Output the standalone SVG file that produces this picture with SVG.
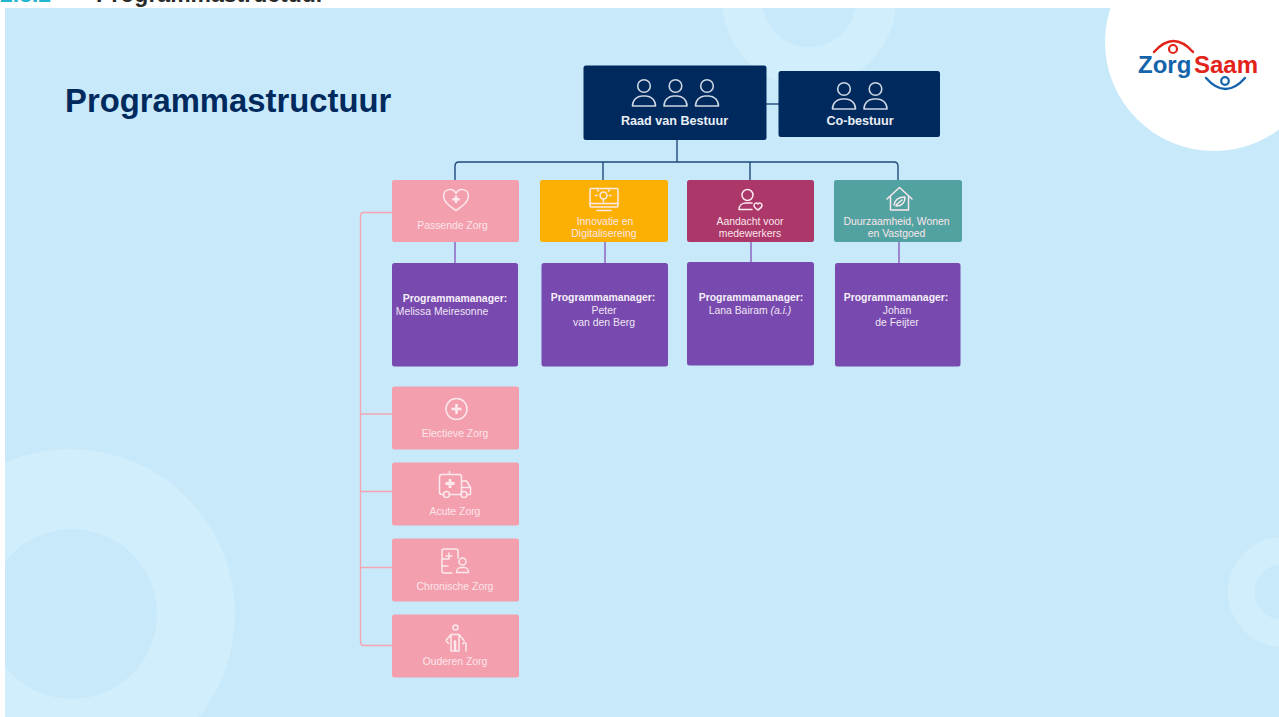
<svg xmlns="http://www.w3.org/2000/svg" width="1279" height="717" viewBox="0 0 1279 717">
<defs>
<style>
text{font-family:"Liberation Sans",Arial,sans-serif}
.lbl{font-size:10.4px;fill:#fbe6ea;text-anchor:middle}
.pm{font-size:10.4px;fill:#efe6f5;text-anchor:middle}
.pmb{font-weight:700;fill:#f6f0fa}
.ttl{font-size:12.6px;font-weight:700;fill:#e9eef5;text-anchor:middle}
.ic{fill:none;stroke:#fbe9ed;stroke-width:1.5;stroke-linecap:round;stroke-linejoin:round}
.icn{fill:none;stroke:#cdd6e2;stroke-width:1.6;stroke-linejoin:round}
.pink{fill:#f49fae}.vio{fill:#7849ae}.navy{fill:#002a5e}
.bg1{fill:#d1eefc}.bg2{fill:#c7e9fa}
.cn{fill:none;stroke:#1f4a7c;stroke-width:1.4}
.cp{fill:none;stroke:#f5a6b4;stroke-width:1.4}
.cv{fill:none;stroke:#8a5cc0;stroke-width:1.4}
.lg{fill:none;stroke-width:2.4;stroke-linecap:round}
</style>
<g id="person"><circle cx="0" cy="-9.500" r="6.300" class="icn"/><path d="M-11.500 10.500c0-6 4.500-10 9.500-10h4c5 0 9.500 4 9.500 10z" class="icn"/></g>
</defs>
<rect width="1279" height="717" fill="#fff"/>
<rect x="5" y="8" width="1274" height="709" class="bg2"/>
<g id="background">
<circle cx="809" cy="0" r="87" class="bg1"/>
<circle cx="809" cy="0" r="47" class="bg2"/>
<circle cx="70" cy="614" r="165" class="bg1"/>
<circle cx="72" cy="614" r="85" class="bg2"/>
<circle cx="1283" cy="592" r="55" class="bg1"/>
<circle cx="1282" cy="592" r="27.500" class="bg2"/>
<circle cx="1214" cy="42" r="109" fill="#fff"/>
<rect x="0" y="0" width="1279" height="8" fill="#fff"/>
<rect x="0" y="0" width="5" height="717" fill="#fff"/>
</g>
<g id="page-heading" font-weight="700">
<text x="0" y="1.500" fill="#22b5cf" font-size="23">2.3.2</text>
<text x="96" y="1.500" fill="#2a2a2a" font-size="23">Programmastructuur</text>
</g>
<text id="title" x="65" y="112" font-size="32.800" font-weight="700" fill="#002a5e">Programmastructuur</text>
<g id="logo">
<path class="lg" d="M1154 52q19.500-22 39 0" stroke="#e2231a"/>
<circle cx="1173" cy="49" r="4" fill="none" stroke="#e2231a" stroke-width="2.200"/>
<text x="1138" y="72.500" font-size="24" font-weight="700" fill="#1464ac">Zorg</text>
<text x="1194" y="72.500" font-size="24" font-weight="700" fill="#e2231a">Saam</text>
<path class="lg" d="M1206 78q19.500 22 39 0" stroke="#1464ac"/>
<circle cx="1225" cy="81" r="3.800" fill="none" stroke="#1464ac" stroke-width="2.200"/>
</g>
<g id="connectors">
<path class="cn" d="M766 104H779"/>
<path class="cn" d="M677 140V162M455 180V166q0-4 4-4H894q4 0 4 4V180M603 162V180M750 162V180"/>
<path class="cv" d="M455 242V263M605 242V263M751 242V262M899 242V263"/>
<path class="cp" d="M392 212.500H364q-3.500 0-3.500 3.500V642q0 3.500 3.500 3.500H392M361 414H392M361 491.500H392M361 567.500H392"/>
</g>
<g id="raad-van-bestuur">
<rect class="navy" x="583.500" y="65.500" width="183" height="74.500" rx="2.500"/>
<use href="#person" x="644" y="95.500"/><use href="#person" x="675.500" y="95.500"/><use href="#person" x="707" y="95.500"/>
<text class="ttl" x="674.500" y="125">Raad van Bestuur</text>
</g>
<g id="co-bestuur">
<rect class="navy" x="778.500" y="71" width="161.500" height="66" rx="2.500"/>
<use href="#person" x="844" y="98.500"/><use href="#person" x="875.500" y="98.500"/>
<text class="ttl" x="860" y="125">Co-bestuur</text>
</g>
<g id="passende-zorg">
<rect class="pink" x="392" y="180" width="127" height="62" rx="2.500"/>
<path class="ic" d="M456 210.500c-8-5-12.500-9-12.500-14.500a6.500 6.500 0 0 1 12.500-2.500a6.500 6.500 0 0 1 12.500 2.500c0 5.500-4.500 9.500-12.500 14.500z"/>
<path d="M456 195.500v7.500M452.200 199.200h7.600" stroke="#fbe9ed" stroke-width="2.400" fill="none"/>
<text class="lbl" x="452.500" y="228.500">Passende Zorg</text>
</g>
<g id="innovatie">
<rect x="540" y="180" width="128" height="62" rx="2.500" fill="#fbb003"/>
<rect class="ic" x="590" y="188.500" width="28" height="18.500" rx="1"/>
<path class="ic" d="M597 210.500h14M590 203.500h28"/>
<circle class="ic" cx="603.500" cy="195.500" r="3.500" stroke-width="1"/>
<path class="ic" d="M603.500 199.500v2.500M597 195.500h-1.500M611 195.500h-1.500M598.500 191l-1-1M608.500 191l1-1" stroke-width="0.800"/>
<text class="lbl" x="605" y="224.500">Innovatie en</text>
<text class="lbl" x="604" y="237">Digitalisereing</text>
</g>
<g id="aandacht">
<rect x="687" y="180" width="127" height="62" rx="2.500" fill="#ac3769"/>
<circle class="ic" cx="747.500" cy="195" r="5.500"/>
<path class="ic" d="M739 209.500c0-4 3-6.500 7-6.500h6M739 209.500h13"/>
<path class="ic" d="M758 210c-2.500-1.500-4-3-4-4.800a2.200 2.200 0 0 1 4-1.200a2.200 2.200 0 0 1 4 1.200c0 1.800-1.500 3.300-4 4.800z"/>
<text class="lbl" x="750" y="224.500">Aandacht voor</text>
<text class="lbl" x="750" y="237">medewerkers</text>
</g>
<g id="duurzaamheid">
<rect x="834" y="180" width="128" height="62" rx="2.500" fill="#52a2a2"/>
<path class="ic" d="M887 199l12.500-11.500L912 199M890.500 197v13h18V197"/>
<path class="ic" d="M894 205c1-6 5-8 11-8c0 6-3 9-9 9M896 205l6-5" stroke-width="1"/>
<text class="lbl" x="896.500" y="224.500">Duurzaamheid, Wonen</text>
<text class="lbl" x="896.500" y="237">en Vastgoed</text>
</g>
<g id="pm-melissa">
<rect class="vio" x="392" y="263" width="126" height="103.500" rx="2.500"/>
<text class="pm pmb" x="455" y="302">Programmamanager:</text>
<text class="pm" x="442" y="314.500">Melissa Meiresonne</text>
</g>
<g id="pm-peter">
<rect class="vio" x="541.500" y="263" width="126.500" height="103.500" rx="2.500"/>
<text class="pm pmb" x="603" y="301">Programmamanager:</text>
<text class="pm" x="604" y="313.500">Peter</text>
<text class="pm" x="604" y="326">van den Berg</text>
</g>
<g id="pm-lana">
<rect class="vio" x="687" y="262" width="127" height="103.500" rx="2.500"/>
<text class="pm pmb" x="751" y="301">Programmamanager:</text>
<text class="pm" x="750" y="313.500">Lana Bairam <tspan font-style="italic">(a.i.)</tspan></text>
</g>
<g id="pm-johan">
<rect class="vio" x="835" y="263" width="125.500" height="103.500" rx="2.500"/>
<text class="pm pmb" x="896" y="301">Programmamanager:</text>
<text class="pm" x="897" y="313.500">Johan</text>
<text class="pm" x="897" y="326">de Feijter</text>
</g>
<g id="electieve-zorg">
<rect class="pink" x="392" y="386.500" width="127" height="63" rx="2.500"/>
<circle class="ic" cx="456.500" cy="409" r="10.500"/>
<path d="M456.500 404v10M451.500 409h10" stroke="#fbe9ed" stroke-width="2.600" fill="none"/>
<text class="lbl" x="455" y="436.500">Electieve Zorg</text>
</g>
<g id="acute-zorg">
<rect class="pink" x="392" y="462.500" width="127" height="63" rx="2.500"/>
<path class="ic" d="M443.500 494.500h-1.500a2.500 2.500 0 0 1-2.500-2.500V477a2.500 2.500 0 0 1 2.500-2.500h17a2.500 2.500 0 0 1 2.500 2.500v17.500M449.500 494.500h11.500M467 494.500h3.500v-7l-4-6.500h-5M461.500 487.500h9M449.500 474.500v-3"/>
<circle class="ic" cx="446.500" cy="494.500" r="3"/>
<circle class="ic" cx="464" cy="494.500" r="3"/>
<path d="M450 479v9M445.500 483.500h9" stroke="#fbe9ed" stroke-width="2.800" fill="none"/>
<text class="lbl" x="455" y="514.500">Acute Zorg</text>
</g>
<g id="chronische-zorg">
<rect class="pink" x="392" y="538.500" width="127" height="63" rx="2.500"/>
<path class="ic" d="M458 558v-7a2 2 0 0 0-2-2h-12a2 2 0 0 0-2 2v20a2 2 0 0 0 2 2h8M442 559h6M442 566h6M449 553v6M446 556h6"/>
<circle class="ic" cx="462.500" cy="561.500" r="3.500"/>
<path class="ic" d="M456.500 572.500c0-3 2-5 4-5h4c2 0 4 2 4 5z"/>
<text class="lbl" x="455" y="589.500">Chronische Zorg</text>
</g>
<g id="ouderen-zorg">
<rect class="pink" x="392" y="614.500" width="127" height="63" rx="2.500"/>
<circle class="ic" cx="455.500" cy="627.500" r="2.500"/>
<path class="ic" d="M451 634.500h8l5 6M451 634.500l-5 6l2.500 3M451 634.500V651h3.500V641M459 634.500V651h-3.500V641M466 651V644a1.500 1.500 0 0 0-3 0"/>
<text class="lbl" x="455" y="664.500">Ouderen Zorg</text>
</g>
</svg>
